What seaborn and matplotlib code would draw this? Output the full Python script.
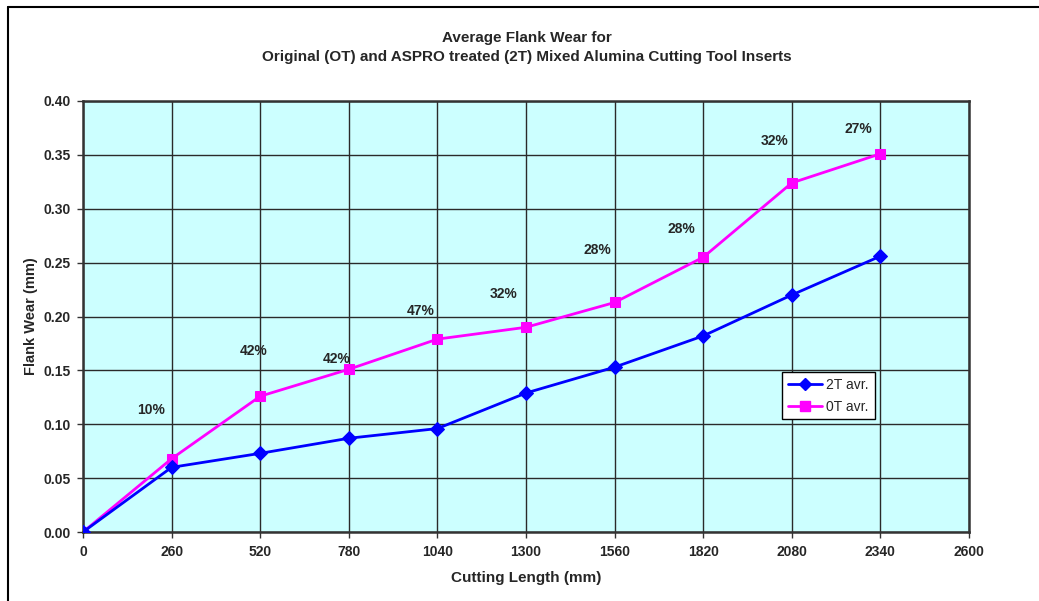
import matplotlib
matplotlib.use("Agg")
import matplotlib.pyplot as plt
from matplotlib.lines import Line2D
import numpy as np
import pandas as pd
import seaborn as sns

# Flank wear measurements (mm) against cutting length (mm)
cutting_length = [0, 260, 520, 780, 1040, 1300, 1560, 1820, 2080, 2340]
wear_2t = [0.000, 0.060, 0.073, 0.087, 0.096, 0.129, 0.153, 0.182, 0.220, 0.256]
wear_0t = [0.000, 0.068, 0.126, 0.151, 0.179, 0.190, 0.213, 0.255, 0.324, 0.351]
reduction_labels = ["10%", "42%", "42%", "47%", "32%", "28%", "28%", "32%", "27%"]

# anchor points (data coords) for the percentage annotations
label_x = [200, 500, 745, 990, 1235, 1510, 1755, 2030, 2275]
label_y = [0.113, 0.168, 0.161, 0.205, 0.221, 0.262, 0.281, 0.363, 0.374]

x_ticks = list(range(0, 2601, 260))
y_ticks = [0.00, 0.05, 0.10, 0.15, 0.20, 0.25, 0.30, 0.35, 0.40]

sns.set_theme(style="white")
plt.rcParams["font.family"] = ["Liberation Sans", "DejaVu Sans"]

df = pd.DataFrame({
    "length": cutting_length * 2,
    "wear": wear_2t + wear_0t,
    "series": ["2T avr."] * len(cutting_length) + ["0T avr."] * len(cutting_length),
})

fig = plt.figure(figsize=(10.39, 6.01), dpi=100)
ax = fig.add_axes([83 / 1039, 1 - 532 / 601, (969 - 83) / 1039, (532 - 101) / 601])
ax.set_facecolor("#CCFFFF")

sns.lineplot(data=df[df.series == "2T avr."], x="length", y="wear", ax=ax,
             color="#0000FF", marker="D", markersize=7, markeredgecolor="#0000FF",
             linewidth=2, zorder=4, legend=False)
sns.lineplot(data=df[df.series == "0T avr."], x="length", y="wear", ax=ax,
             color="#FF00FF", marker="s", markersize=7, markeredgecolor="#FF00FF",
             linewidth=2, zorder=3, legend=False)

for txt, lx, ly in zip(reduction_labels, label_x, label_y):
    ax.text(lx, ly, txt, fontsize=10, fontweight="bold", ha="center", va="center", zorder=5)

ax.set_xlim(0, 2600)
ax.set_ylim(0, 0.40)
ax.set_xticks(x_ticks)
ax.set_yticks(y_ticks)
ax.set_xticklabels([str(v) for v in x_ticks])
ax.set_yticklabels([f"{v:.2f}" for v in y_ticks])
ax.tick_params(axis="both", which="both", direction="out", length=4, width=1,
               color="#333333", labelsize=10, pad=5, bottom=True, left=True)
for lab in ax.get_xticklabels() + ax.get_yticklabels():
    lab.set_fontweight("bold")

ax.grid(True, color="#2a2a2a", linewidth=1, zorder=1)
ax.set_axisbelow(True)
for side in ["left", "right", "top", "bottom"]:
    ax.spines[side].set_visible(True)
    ax.spines[side].set_color("#333333")
    ax.spines[side].set_linewidth(1.8)

ax.set_xlabel("Cutting Length (mm)", fontsize=11, fontweight="bold", labelpad=9)
ax.set_ylabel("Flank Wear (mm)", fontsize=10.5, fontweight="bold", labelpad=4)

fig.text(527 / 1039, 1 - 38 / 601, "Average Flank Wear for", ha="center", va="center",
         fontsize=11, fontweight="bold")
fig.text(527 / 1039, 1 - 57 / 601,
         "Original (OT) and ASPRO treated (2T) Mixed Alumina Cutting Tool Inserts",
         ha="center", va="center", fontsize=11, fontweight="bold")

handles = [
    Line2D([], [], color="#0000FF", marker="D", markersize=6.5, linewidth=2, label="2T avr."),
    Line2D([], [], color="#FF00FF", marker="s", markersize=6.5, linewidth=2, label="0T avr."),
]
leg = ax.legend(handles=handles, loc="upper left",
                bbox_to_anchor=((782 - 83) / 886, (532 - 372) / 431),
                fontsize=10, frameon=True, fancybox=False, framealpha=1,
                edgecolor="black", handlelength=2.5, handletextpad=0.3,
                borderpad=0.4, labelspacing=0.6, borderaxespad=0)
leg.get_frame().set_linewidth(1)

# chart-area border
fig.add_artist(Line2D([8 / 1039, 8 / 1039], [0, 1 - 7 / 601], transform=fig.transFigure,
                      color="black", linewidth=1.5))
fig.add_artist(Line2D([8 / 1039, 1], [1 - 7 / 601, 1 - 7 / 601], transform=fig.transFigure,
                      color="black", linewidth=1.5))

fig.savefig("out.png", dpi=100, facecolor="white")
